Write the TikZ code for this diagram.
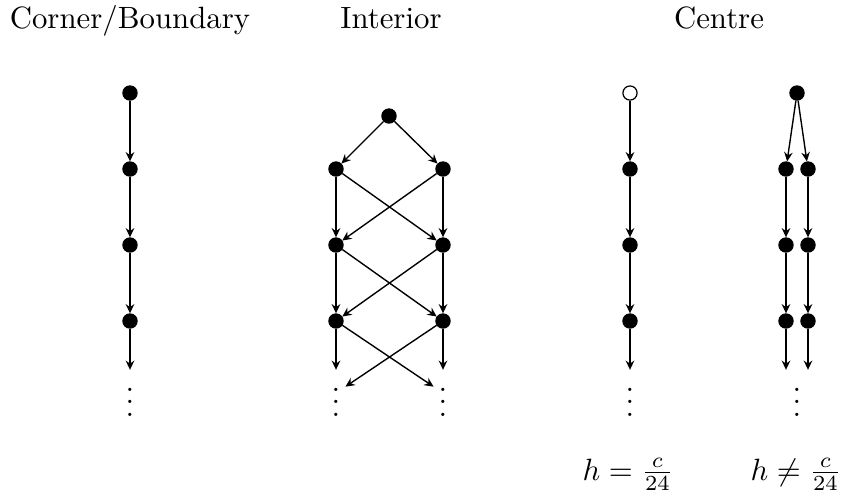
\documentclass[tikz,border=0pt]{standalone}
\usepackage{amsmath}
\usetikzlibrary{arrows.meta}
\begin{document}
\begin{tikzpicture}[x=0.3247pt,y=-0.3247pt,
  v/.style={circle,fill=black,draw=black,inner sep=0pt,minimum size=4.6pt},
  ov/.style={circle,fill=white,draw=black,inner sep=0pt,minimum size=4.6pt},
  dd/.style={inner sep=0pt,outer sep=0pt},
  arr/.style={-{Stealth[length=3pt,width=2.8pt,inset=1pt]},line width=0.45pt},
  ttl/.style={anchor=base,inner sep=0pt}]
\useasboundingbox (0,0) rectangle (841,494);

% titles
\node[ttl] (t1) at (130,28) {Corner/Boundary};
\node[ttl] (t2) at (391,28) {Interior};
\node[ttl] (t3) at (719,28) {Centre};

% Corner/Boundary column
\node[v] (a0) at (130,93) {};
\node[v] (a1) at (130,169) {};
\node[v] (a2) at (130,245) {};
\node[v] (a3) at (130,321) {};
\node[dd] (ad) at (130,393) {$\vdots$};
\draw[arr] (a0) -- (a1);
\draw[arr] (a1) -- (a2);
\draw[arr] (a2) -- (a3);
\draw[arr] (a3) -- (ad);

% Interior
\node[v] (i0) at (389,116) {};
\node[v] (l1) at (336,169) {};
\node[v] (r1) at (443,169) {};
\node[v] (l2) at (336,245) {};
\node[v] (r2) at (443,245) {};
\node[v] (l3) at (336,321) {};
\node[v] (r3) at (443,321) {};
\node[dd] (ld) at (336,393) {$\vdots$};
\node[dd] (rd) at (443,393) {$\vdots$};
\draw[arr] (i0) -- (l1);
\draw[arr] (i0) -- (r1);
\draw[arr] (l1) -- (l2);
\draw[arr] (r1) -- (r2);
\draw[arr] (l1) -- (r2);
\draw[arr] (r1) -- (l2);
\draw[arr] (l2) -- (l3);
\draw[arr] (r2) -- (r3);
\draw[arr] (l2) -- (r3);
\draw[arr] (r2) -- (l3);
\draw[arr] (l3) -- (ld);
\draw[arr] (r3) -- (rd);
\draw[arr,shorten >=3.7pt] (l3) -- (rd.center);
\draw[arr,shorten >=3.7pt] (r3) -- (ld.center);

% Centre, h = c/24
\node[ov] (c0) at (630,93) {};
\node[v] (c1) at (630,169) {};
\node[v] (c2) at (630,245) {};
\node[v] (c3) at (630,321) {};
\node[dd] (cd) at (630,393) {$\vdots$};
\draw[arr] (c0) -- (c1);
\draw[arr] (c1) -- (c2);
\draw[arr] (c2) -- (c3);
\draw[arr] (c3) -- (cd);
\node[ttl] (h1) at (628,480) {$h=\frac{c}{24}$};

% Centre, h != c/24
\node[v] (d0) at (797,93) {};
\node[v] (p1) at (786,169) {};
\node[v] (q1) at (808,169) {};
\node[v] (p2) at (786,245) {};
\node[v] (q2) at (808,245) {};
\node[v] (p3) at (786,321) {};
\node[v] (q3) at (808,321) {};
\node[dd] (dd2) at (797,393) {$\vdots$};
\draw[arr] (d0) -- (p1);
\draw[arr] (d0) -- (q1);
\draw[arr] (p1) -- (p2);
\draw[arr] (q1) -- (q2);
\draw[arr] (p2) -- (p3);
\draw[arr] (q2) -- (q3);
\draw[arr] (p3) -- (p3 |- dd2.north);
\draw[arr] (q3) -- (q3 |- dd2.north);
\node[ttl] (h2) at (796,480) {$h\neq\frac{c}{24}$};
\end{tikzpicture}
\end{document}
